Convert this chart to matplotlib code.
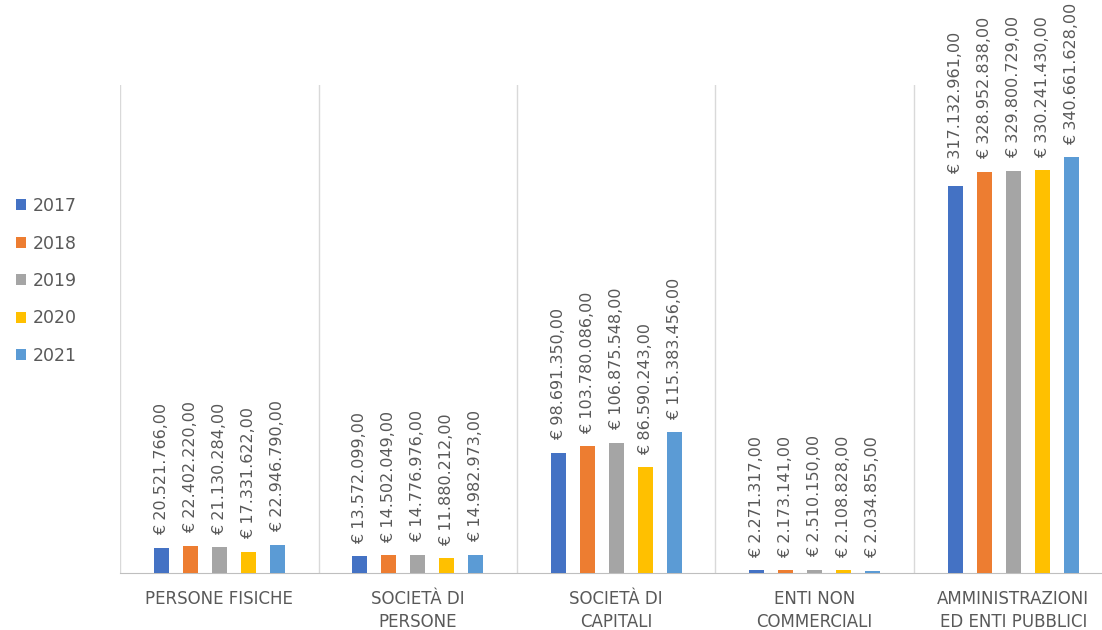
import numpy as np
import matplotlib.pyplot as plt

OUTPUT_PATH = "out.png"

categories = [
    "PERSONE FISICHE",
    "SOCIETÀ DI\nPERSONE",
    "SOCIETÀ DI\nCAPITALI",
    "ENTI NON\nCOMMERCIALI",
    "AMMINISTRAZIONI\nED ENTI PUBBLICI",
]
years = ["2017", "2018", "2019", "2020", "2021"]

# values in euro, one list per year (same order as categories)
v2017 = [20521766.00, 13572099.00, 98691350.00, 2271317.00, 317132961.00]
v2018 = [22402220.00, 14502049.00, 103780086.00, 2173141.00, 328952838.00]
v2019 = [21130284.00, 14776976.00, 106875548.00, 2510150.00, 329800729.00]
v2020 = [17331622.00, 11880212.00, 86590243.00, 2108828.00, 330241430.00]
v2021 = [22946790.00, 14982973.00, 115383456.00, 2034855.00, 340661628.00]

colors = ["#4472C4", "#ED7D31", "#A5A5A5", "#FFC000", "#5B9BD5"]
TEXT_COLOR = "#595959"


def euro(v):
    s = f"{v:,.2f}"
    s = s.replace(",", "X").replace(".", ",").replace("X", ".")
    return "€ " + s


def plot_chart():
    fig = plt.figure(figsize=(11.02, 6.30), dpi=100)
    ax = fig.add_axes([0.1089, 0.0905, 0.9006, 0.7746])

    series = [v2017, v2018, v2019, v2020, v2021]
    x = np.arange(len(categories))
    pitch = 0.146
    width = 0.076

    for i, (vals, col, yr) in enumerate(zip(series, colors, years)):
        pos = x + (i - 2) * pitch
        bars = ax.bar(pos, vals, width=width, color=col, label=yr, zorder=3)
        for b, v in zip(bars, vals):
            ax.annotate(euro(v), (b.get_x() + b.get_width() / 2, v),
                        xytext=(0, 9), textcoords="offset points",
                        rotation=90, ha="center", va="bottom",
                        fontsize=11.5, color=TEXT_COLOR, annotation_clip=False)

    ax.set_xlim(-0.5, len(categories) - 0.5)
    ax.set_ylim(0, 400e6)

    # category separators
    for k in range(len(categories) + 1):
        ax.axvline(k - 0.5, color="#D9D9D9", lw=1, zorder=1)

    for s in ["top", "right", "left"]:
        ax.spines[s].set_visible(False)
    ax.spines["bottom"].set_color("#BFBFBF")
    ax.set_yticks([])
    ax.set_xticks(x)
    ax.set_xticklabels(categories, fontsize=12, color=TEXT_COLOR,
                       linespacing=1.4)
    ax.tick_params(axis="x", length=0, pad=12)

    fig.legend(loc="upper left", bbox_to_anchor=(0.0, 0.712),
               frameon=False, fontsize=12.5, labelcolor=TEXT_COLOR,
               handlelength=0.6, handleheight=0.6, handletextpad=0.4,
               labelspacing=1.12)

    fig.savefig(OUTPUT_PATH, dpi=100)
    plt.close(fig)


if __name__ == "__main__":
    plot_chart()
